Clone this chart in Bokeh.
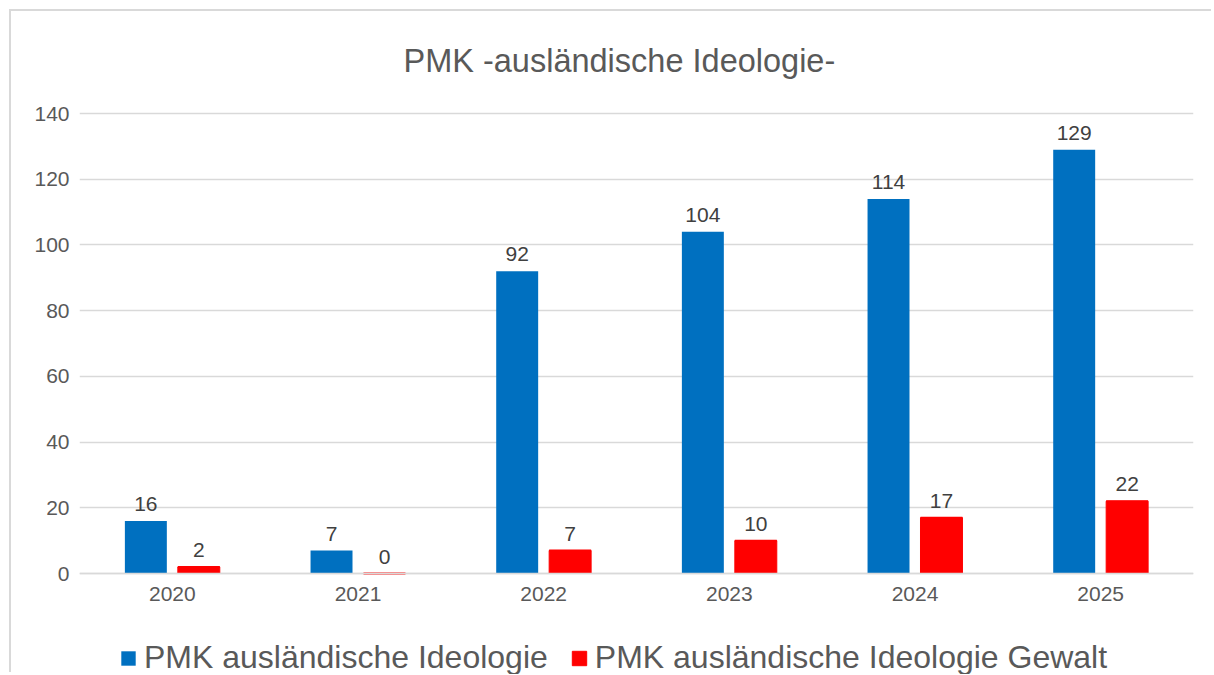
from bokeh.plotting import figure
from bokeh.models import ColumnDataSource, FactorRange, Range1d, LabelSet, Label, Legend, LegendItem, FixedTicker
from bokeh.transform import dodge
from bokeh.embed import file_html
from bokeh.resources import INLINE
from bokeh.core.properties import value

years = ["2020", "2021", "2022", "2023", "2024", "2025"]
pmk_ideologie = [16, 7, 92, 104, 114, 129]
pmk_gewalt = [2, 0, 7, 10, 17, 22]
y_ticks = [0, 20, 40, 60, 80, 100, 120, 140]

title_text = "PMK -ausländische Ideologie-"
name_a = "PMK ausländische Ideologie"
name_b = "PMK ausländische Ideologie Gewalt"

BLUE = "#0070C0"
RED = "#FF0000"
FONT = "Liberation Sans"

src = ColumnDataSource(dict(
    year=years,
    a=pmk_ideologie,
    b=pmk_gewalt,
    a_lbl=[str(v) for v in pmk_ideologie],
    b_lbl=[str(v) for v in pmk_gewalt],
))

# layout geometry (pixels); the frame fills the canvas height
W, H = 1202, 663
top_px, zero_px = 102, 562          # pixel rows of the 140 and 0 gridlines
y_top_tick = 140
px_per_unit = (zero_px - top_px) / y_top_tick
y_min = -(H - zero_px) / px_per_unit
y_max = y_top_tick + top_px / px_per_unit

p = figure(
    x_range=FactorRange(*years),
    y_range=Range1d(y_min, y_max),
    width=W, height=H,
    output_backend="svg", toolbar_location=None,
    min_border_left=68, min_border_right=20,
    min_border_top=0, min_border_bottom=0,
    background_fill_color="white", border_fill_color="white",
)
p.styles = {
    "margin-left": "9px", "margin-top": "9px",
    "border-top": "2px solid #D9D9D9", "border-left": "2px solid #D9D9D9",
}
p.outline_line_color = None

off = 0.1426
bw = 0.226
ra = p.vbar(x=dodge("year", -off, range=p.x_range), top="a", width=bw, source=src,
            fill_color=BLUE, line_color=None)
rb = p.vbar(x=dodge("year", off, range=p.x_range), top="b", width=bw, source=src,
            fill_color=RED, line_color=RED, line_width=1)
# top edge of the red bars (keeps the zero-height bar visible as a thin line)
p.segment(x0=dodge("year", off - bw / 2, range=p.x_range), y0="b",
          x1=dodge("year", off + bw / 2, range=p.x_range), y1="b",
          source=src, line_color=RED, line_width=2)

for col, lbl, dx in (("a", "a_lbl", -off), ("b", "b_lbl", off)):
    ls = LabelSet(x=dodge("year", dx, range=p.x_range), y=col, text=lbl, source=src,
                  text_align="center", text_baseline="alphabetic", y_offset=10,
                  text_font=value(FONT), text_font_size="21px", text_color="#404040")
    p.add_layout(ls)

# title
p.add_layout(Label(
    x=0, y=y_top_tick, x_offset=324, y_offset=52.7, text=title_text,
    text_align="left", text_baseline="alphabetic",
    text_font=FONT, text_font_size="32.5px", text_color="#595959",
))

# axes
p.yaxis.ticker = FixedTicker(ticks=y_ticks)
for ax in (p.xaxis[0], p.yaxis[0]):
    ax.major_tick_line_color = None
    ax.minor_tick_line_color = None
    ax.major_label_text_font = FONT
    ax.major_label_text_font_size = "21px"
    ax.major_label_text_color = "#595959"
p.yaxis.axis_line_color = None
p.yaxis.major_label_standoff = 4
p.xaxis.fixed_location = 0
p.xaxis.axis_line_color = "#D9D9D9"
p.xaxis.axis_line_width = 1.5
p.xaxis.major_label_standoff = 7

p.xgrid.grid_line_color = None
p.ygrid.grid_line_color = "#D9D9D9"
p.ygrid.grid_line_width = 1.5

legend = Legend(
    items=[LegendItem(label=name_a, renderers=[ra]), LegendItem(label=name_b, renderers=[rb])],
    orientation="horizontal",
    location=(40, -2),
    label_text_font=FONT, label_text_font_size="32px", label_text_color="#595959",
    glyph_width=18, glyph_height=18, label_standoff=7, spacing=22,
    padding=0, margin=0,
    border_line_color=None, background_fill_alpha=0,
)
p.add_layout(legend)

open("out.html", "w").write(file_html(p, INLINE))
